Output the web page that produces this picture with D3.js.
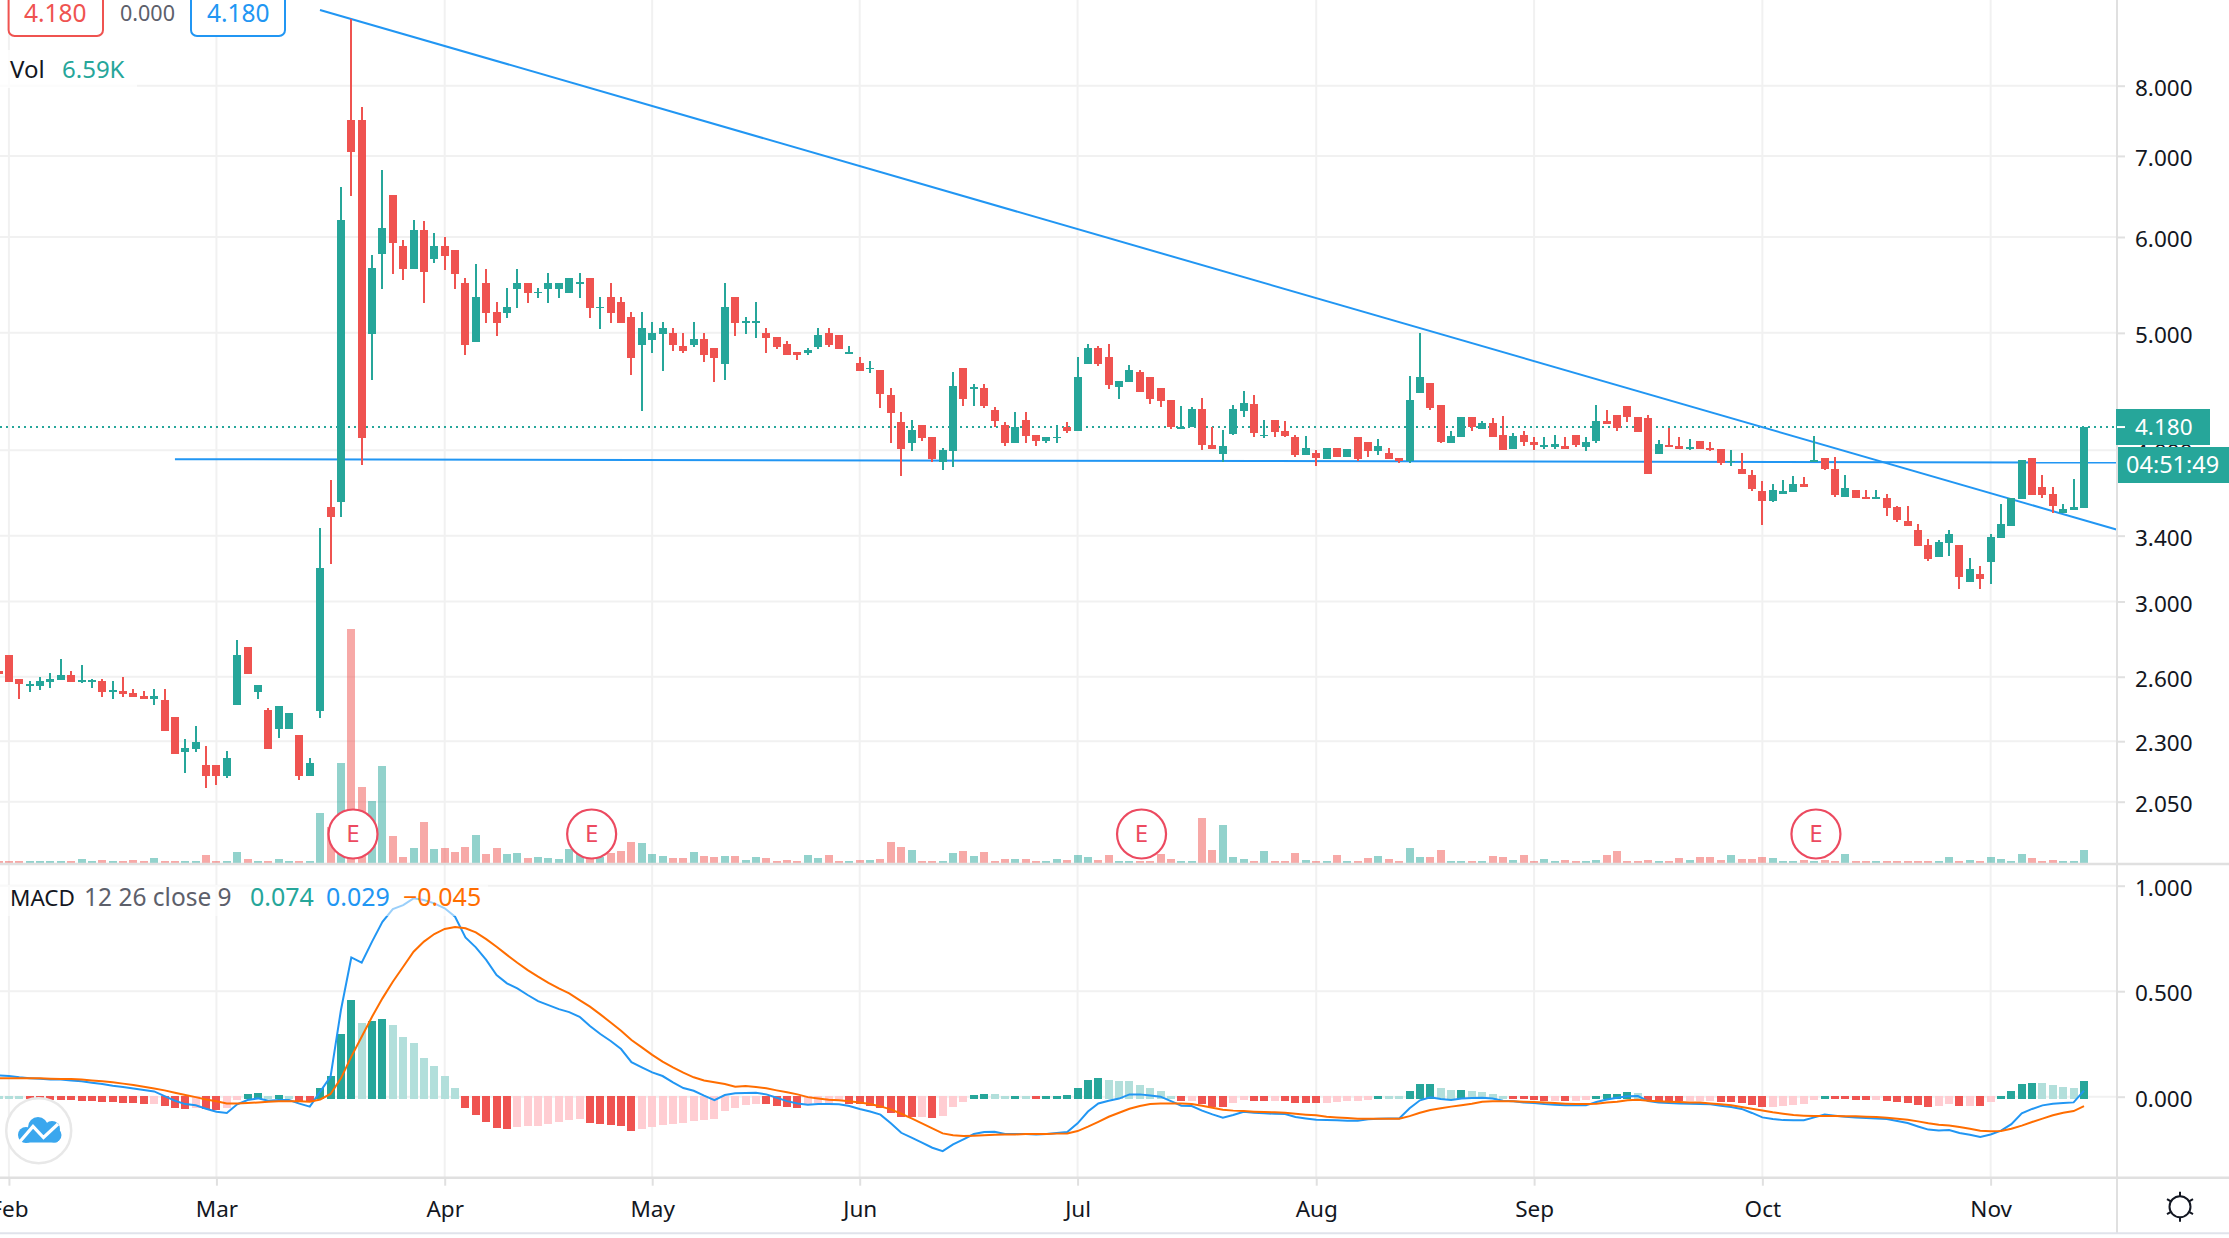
<!DOCTYPE html>
<html><head><meta charset="utf-8">
<script src="https://cdn.jsdelivr.net/npm/d3@7/dist/d3.min.js"></script>
<style>
html,body{margin:0;padding:0;background:#fff;overflow:hidden}
svg{display:block}
text{font-family:"Noto Sans",sans-serif}
.domainless .domain{display:none}
</style></head><body>
<div id="chart"></div>
<script>
const opens=[2.630,2.711,2.590,2.555,2.555,2.575,2.585,2.610,2.572,2.575,
2.580,2.524,2.532,2.522,2.508,2.494,2.489,2.410,2.254,2.267,
2.200,2.200,2.154,2.465,2.752,2.527,2.442,2.356,2.356,2.329,
2.154,2.437,3.592,3.626,7.496,7.496,4.990,5.810,6.500,5.898,
5.645,6.081,5.754,5.898,5.854,5.498,4.915,5.498,5.203,5.193,
5.436,5.498,5.394,5.436,5.436,5.394,5.488,5.550,5.240,5.354,
5.303,5.154,4.887,4.933,4.990,4.999,4.878,4.887,4.943,4.859,
4.713,5.354,5.095,5.095,4.999,4.962,4.896,4.823,4.813,4.868,
4.999,4.981,4.804,4.722,4.669,4.660,4.444,4.222,4.056,4.198,
4.103,3.912,3.994,4.678,4.494,4.503,4.319,4.198,4.056,4.238,
4.119,4.071,4.092,4.182,4.150,4.713,4.859,4.776,4.512,4.555,
4.642,4.598,4.503,4.402,4.166,4.182,4.327,4.040,3.972,4.126,
4.311,4.368,4.111,4.238,4.150,4.103,3.964,3.979,3.934,4.018,
3.949,4.103,4.063,3.994,3.979,3.942,3.919,4.461,4.546,4.360,
4.056,4.103,4.262,4.166,4.214,4.119,4.010,4.119,4.063,4.025,
4.025,4.033,4.119,4.025,4.071,4.230,4.278,4.352,4.262,4.254,
3.972,4.040,4.033,4.007,4.071,4.018,4.010,3.910,3.860,3.816,
3.702,3.633,3.681,3.695,3.752,3.912,3.942,3.860,3.661,3.709,
3.661,3.647,3.654,3.592,3.498,3.438,3.341,3.266,3.354,3.341,
3.114,3.162,3.236,3.386,3.464,3.647,3.942,3.730,3.681,3.551,
3.571,3.585];
const highs=[2.630,2.711,2.590,2.580,2.600,2.620,2.690,2.630,2.660,2.590,
2.590,2.580,2.600,2.542,2.532,2.542,2.542,2.410,2.311,2.369,
2.281,2.200,2.259,2.789,2.752,2.561,2.451,2.461,2.428,2.329,
2.229,3.451,3.780,6.600,9.081,7.683,5.798,6.810,6.500,5.966,
6.198,6.186,6.046,6.000,5.854,5.550,5.700,5.646,5.303,5.446,
5.646,5.498,5.446,5.603,5.498,5.550,5.603,5.550,5.354,5.498,
5.354,5.203,5.203,5.105,5.105,5.047,4.999,5.105,4.999,4.859,
5.498,5.354,5.154,5.303,5.047,4.962,4.924,4.823,4.859,5.047,
5.047,4.981,4.878,4.776,4.740,4.660,4.503,4.303,4.238,4.198,
4.103,4.018,4.642,4.678,4.538,4.538,4.344,4.222,4.303,4.303,
4.119,4.103,4.198,4.222,4.776,4.896,4.878,4.896,4.563,4.705,
4.660,4.598,4.503,4.402,4.352,4.344,4.419,4.182,4.158,4.360,
4.477,4.444,4.238,4.238,4.230,4.119,4.111,4.002,4.018,4.018,
4.010,4.103,4.063,4.087,4.018,3.942,4.607,4.999,4.546,4.360,
4.150,4.262,4.262,4.230,4.254,4.270,4.134,4.150,4.103,4.103,
4.119,4.103,4.119,4.103,4.360,4.319,4.278,4.352,4.262,4.278,
4.079,4.174,4.103,4.087,4.071,4.063,4.010,4.002,3.979,3.853,
3.773,3.752,3.780,3.809,3.802,4.111,3.942,3.949,3.816,3.709,
3.709,3.709,3.681,3.599,3.599,3.478,3.379,3.373,3.438,3.341,
3.260,3.211,3.412,3.612,3.654,3.927,3.942,3.816,3.730,3.612,
3.787,4.180];
const lows=[2.615,2.575,2.494,2.527,2.537,2.547,2.585,2.575,2.570,2.547,
2.503,2.494,2.503,2.503,2.494,2.465,2.347,2.246,2.167,2.254,
2.106,2.118,2.146,2.465,2.615,2.494,2.267,2.316,2.356,2.138,
2.154,2.405,3.223,3.524,6.487,3.890,4.572,5.436,5.592,5.529,
5.645,5.293,5.711,5.635,5.436,4.795,4.915,5.095,4.971,5.144,
5.243,5.293,5.343,5.293,5.343,5.394,5.343,5.144,5.037,5.095,
5.095,4.616,4.311,4.813,4.651,4.832,4.813,4.868,4.731,4.555,
4.572,4.971,4.990,4.952,4.813,4.850,4.795,4.749,4.795,4.850,
4.868,4.850,4.804,4.651,4.634,4.335,4.056,3.809,3.994,4.071,
3.912,3.853,3.875,4.352,4.352,4.335,4.182,4.033,4.056,4.056,
4.033,4.056,4.056,4.134,4.150,4.713,4.696,4.494,4.410,4.555,
4.469,4.368,4.344,4.166,4.166,4.182,4.002,4.010,3.912,4.118,
4.262,4.103,4.095,4.103,4.103,3.949,3.964,3.883,3.934,3.949,
3.949,3.919,3.949,3.964,3.934,3.905,3.905,4.461,4.319,4.056,
4.056,4.103,4.150,4.166,4.103,4.002,4.010,4.033,4.002,4.010,
4.010,4.010,4.025,3.994,4.056,4.206,4.150,4.222,4.142,3.824,
3.972,4.025,4.010,4.002,4.010,3.994,3.890,3.883,3.824,3.702,
3.471,3.626,3.681,3.695,3.730,3.912,3.853,3.661,3.661,3.654,
3.647,3.647,3.530,3.491,3.464,3.335,3.242,3.266,3.273,3.074,
3.114,3.074,3.102,3.386,3.464,3.647,3.674,3.654,3.551,3.551,
3.571,3.585];
const closes=[2.615,2.575,2.565,2.563,2.580,2.590,2.610,2.575,2.582,2.585,
2.527,2.534,2.518,2.503,2.494,2.508,2.347,2.246,2.272,2.298,
2.154,2.154,2.229,2.711,2.615,2.561,2.267,2.461,2.428,2.154,
2.208,3.198,3.524,6.198,7.053,4.095,5.656,6.104,5.932,5.645,
6.081,5.613,5.898,5.787,5.592,4.887,5.354,5.193,5.095,5.253,
5.498,5.394,5.404,5.498,5.498,5.550,5.503,5.243,5.256,5.193,
5.095,4.767,5.047,4.999,5.047,4.887,4.832,4.943,4.795,4.767,
5.253,5.095,5.114,5.114,4.952,4.868,4.795,4.795,4.841,4.981,
4.887,4.850,4.823,4.651,4.680,4.452,4.294,4.010,4.158,4.095,
3.934,4.002,4.520,4.410,4.512,4.352,4.230,4.056,4.182,4.111,
4.071,4.103,4.105,4.150,4.598,4.859,4.713,4.529,4.563,4.660,
4.469,4.410,4.394,4.182,4.182,4.327,4.040,4.010,4.033,4.327,
4.377,4.134,4.119,4.142,4.111,3.964,4.018,3.942,4.018,3.949,
4.010,3.934,3.994,4.033,3.934,3.919,4.402,4.598,4.335,4.063,
4.111,4.262,4.182,4.214,4.103,4.002,4.111,4.063,4.040,4.040,
4.048,4.010,4.040,4.063,4.230,4.206,4.174,4.262,4.142,3.824,
4.048,4.025,4.010,4.022,4.010,4.002,3.905,3.922,3.824,3.716,
3.633,3.709,3.702,3.752,3.730,3.927,3.860,3.674,3.723,3.654,
3.647,3.661,3.585,3.504,3.464,3.335,3.254,3.360,3.412,3.144,
3.192,3.132,3.392,3.478,3.654,3.927,3.674,3.674,3.599,3.578,
3.592,4.180];
const volumeK=[1.0,1.0,1.0,1.0,1.0,1.0,1.0,1.0,2.0,1.0,
1.5,1.0,1.0,1.5,1.0,2.5,1.0,1.0,1.0,1.0,
4.1,1.0,1.0,5.6,2.0,1.0,1.0,2.0,1.0,1.0,
1.0,25.4,18.3,50.7,118.6,38.5,31.4,49.2,13.7,3.0,
7.6,20.8,7.1,7.6,5.6,8.1,14.2,4.6,7.6,4.6,
5.1,2.5,3.0,2.5,2.0,7.1,5.6,2.5,3.0,5.1,
6.1,10.6,10.1,4.6,3.5,2.5,2.5,5.6,3.5,3.0,
3.5,3.5,1.5,3.0,2.5,1.0,1.5,1.0,4.1,2.5,
4.1,1.0,1.0,1.5,1.5,2.0,10.6,8.1,6.6,1.0,
1.0,1.0,5.1,6.1,3.5,5.6,1.0,2.0,2.0,2.0,
1.0,1.0,2.0,1.5,4.1,3.0,1.5,4.1,1.0,1.0,
1.0,1.0,4.6,2.0,1.0,1.0,22.8,6.6,19.3,3.0,
2.0,1.0,6.1,1.0,1.0,5.1,1.5,1.0,1.0,4.1,
1.0,1.0,2.5,3.5,2.0,1.0,7.6,3.0,3.0,6.6,
1.0,1.0,1.0,1.0,3.5,3.0,1.5,4.1,1.0,2.0,
1.0,1.5,1.0,1.0,1.5,4.1,6.1,1.0,1.0,1.5,
1.0,1.0,2.5,1.5,3.0,3.0,1.5,4.1,2.0,2.0,
3.0,2.5,1.0,1.0,1.5,1.0,1.5,1.0,4.6,1.0,
1.0,1.0,1.0,1.0,1.0,1.0,1.0,1.0,3.0,1.0,
1.5,1.0,3.0,2.0,1.0,4.6,2.5,1.0,1.5,1.0,
1.0,6.59];
const macdHist=[.003,.002,.001,-.008,-.009,-.010,-.011,-.013,-.014,-.017,
-.019,-.022,-.024,-.027,-.029,-.028,-.038,-.047,-.052,-.047,
-.052,-.057,-.047,-.009,.014,.019,.005,.006,.004,-.017,
-.022,.043,.100,.299,.460,.351,.360,.370,.341,.284,
.256,.185,.147,.100,.043,-.047,-.081,-.114,-.142,-.147,
-.137,-.133,-.132,-.123,-.114,-.104,-.103,-.118,-.123,-.128,
-.133,-.156,-.147,-.137,-.128,-.123,-.122,-.109,-.104,-.100,
-.062,-.047,-.035,-.030,-.031,-.039,-.044,-.049,-.035,-.025,
-.024,-.016,-.030,-.031,-.039,-.049,-.073,-.092,-.093,-.092,
-.096,-.087,-.044,-.021,.008,.013,.012,.004,.005,.004,
-.006,.004,.005,.008,.041,.079,.088,.079,.074,.073,
.055,.041,.027,.004,-.016,-.015,-.030,-.044,-.045,-.025,
-.011,-.016,-.017,-.016,-.017,-.025,-.026,-.027,-.026,-.021,
-.016,-.015,-.011,.005,.003,.002,.027,.060,.061,.041,
.032,.033,.027,.022,.012,.004,-.006,-.007,-.011,-.016,
-.015,-.016,-.015,-.011,.004,.013,.014,.022,.017,-.011,
-.016,-.017,-.018,-.017,-.016,-.015,-.021,-.022,-.025,-.035,
-.044,-.043,-.039,-.035,-.030,-.011,.002,-.006,-.007,-.011,
-.012,-.011,-.016,-.021,-.025,-.035,-.044,-.039,-.030,-.040,
-.039,-.040,-.021,.003,.027,.060,.065,.064,.055,.046,
.041,.074];
const macdLine=[.101,.098,.092,.088,.085,.082,.081,.077,.073,.066,
.060,.052,.046,.039,.032,.025,.003,-.019,-.035,-.041,
-.057,-.071,-.077,-.036,-.016,-.008,-.019,-.016,-.016,-.033,
-.047,.024,.095,.411,.660,.635,.735,.829,.889,.908,
.940,.932,.916,.893,.853,.755,.708,.648,.577,.537,
.513,.482,.453,.434,.415,.401,.379,.335,.297,.264,
.226,.164,.139,.115,.098,.068,.041,.028,.005,-.016,
.008,.016,.017,.019,.011,-.005,-.021,-.032,-.038,-.035,
-.035,-.036,-.044,-.058,-.070,-.085,-.126,-.171,-.194,-.218,
-.242,-.258,-.226,-.202,-.177,-.167,-.166,-.177,-.177,-.177,
-.179,-.177,-.172,-.167,-.126,-.070,-.032,-.019,-.009,.011,
.011,.006,0,-.021,-.043,-.044,-.066,-.084,-.100,-.087,
-.071,-.076,-.079,-.081,-.082,-.096,-.103,-.109,-.111,-.112,
-.114,-.114,-.107,-.104,-.103,-.103,-.055,-.017,-.003,-.011,
-.016,-.008,-.006,-.005,-.009,-.019,-.022,-.027,-.030,-.035,
-.038,-.040,-.041,-.041,-.025,-.013,-.005,.002,.003,-.021,
-.027,-.030,-.032,-.033,-.035,-.036,-.043,-.049,-.058,-.077,
-.098,-.106,-.111,-.112,-.112,-.098,-.084,-.090,-.095,-.098,
-.101,-.103,-.106,-.115,-.125,-.141,-.156,-.160,-.158,-.172,
-.180,-.191,-.179,-.161,-.130,-.079,-.058,-.041,-.033,-.030,
-.027,.029];
const signalLine=[.087,.088,.088,.088,.087,.085,.084,.084,.081,.077,
.073,.068,.062,.055,.047,.039,.030,.019,.008,-.002,
-.013,-.022,-.032,-.032,-.030,-.027,-.024,-.022,-.021,-.022,
-.024,-.013,.013,.087,.190,.284,.379,.466,.545,.616,
.687,.735,.771,.795,.804,.798,.779,.747,.711,.672,
.635,.600,.569,.540,.513,.490,.458,.427,.390,.352,
.313,.269,.234,.198,.166,.139,.114,.092,.077,.068,
.060,.047,.051,.046,.040,.030,.021,.011,-.002,-.008,
-.014,-.017,-.022,-.027,-.035,-.046,-.060,-.081,-.103,-.126,
-.150,-.174,-.183,-.186,-.185,-.183,-.180,-.179,-.179,-.177,
-.177,-.177,-.175,-.174,-.163,-.142,-.119,-.095,-.076,-.057,
-.044,-.035,-.032,-.032,-.032,-.035,-.043,-.052,-.062,-.066,
-.068,-.071,-.073,-.074,-.076,-.081,-.085,-.088,-.095,-.098,
-.101,-.104,-.104,-.104,-.104,-.104,-.092,-.076,-.063,-.055,
-.047,-.040,-.033,-.024,-.022,-.021,-.022,-.024,-.025,-.028,
-.030,-.033,-.035,-.035,-.033,-.028,-.024,-.017,-.014,-.019,
-.022,-.024,-.025,-.027,-.028,-.032,-.036,-.041,-.049,-.057,
-.065,-.074,-.081,-.087,-.090,-.092,-.092,-.092,-.093,-.093,
-.095,-.096,-.100,-.104,-.109,-.117,-.126,-.133,-.137,-.144,
-.152,-.161,-.164,-.163,-.152,-.137,-.120,-.104,-.088,-.076,
-.068,-.045];
const priceTicks=[8,7,6,5,4,3.4,3,2.6,2.3,2.05];
const macdTicks=[1,0.5,0];
const monthLabels=["Feb","Mar","Apr","May","Jun","Jul","Aug","Sep","Oct","Nov"];
const monthBars=[1,21,43,63,83,104,127,148,170,192];
const earningsBars=[34,57,110,175];
const trendDown={bars:[30.98,204.2],prices:[9.24,3.438]};
const trendFlat={bars:[17.0,204.2],prices:[3.932,3.907]};
const lastPrice=4.18;

const W=2229,H=1238,axisX=2117,paneBottom=864,macdBottom=1177.7,footY=1233.3;
const GREEN="#26a69a",RED="#ef5350",BLUE="#2196f3",ORANGE="#ff6d00",INK="#131722",GRID="#f1f1f1",SEP="#e0e0e0";
const x=d3.scaleLinear().domain([0,201]).range([-1.45,2084]);
const yP=d3.scaleLog().domain([8,2.05]).range([85.7,801.7]);
const yV=d3.scaleLinear().domain([0,120]).range([863,626.3]);
const yM=d3.scaleLinear().domain([1,0]).range([885.7,1096.7]);
const svg=d3.select("#chart").append("svg").attr("width",W).attr("height",H).attr("viewBox",`0 0 ${W} ${H}`);
svg.append("rect").attr("width",W).attr("height",H).attr("fill","#fff");
const bars=d3.range(opens.length);
const up=i=>closes[i]>=opens[i];

// grid
const grid=svg.append("g").attr("stroke",GRID).attr("stroke-width",2);
grid.selectAll(".v").data(monthBars).join("line").attr("x1",d=>x(d)).attr("x2",d=>x(d)).attr("y1",0).attr("y2",macdBottom);
grid.selectAll(".h").data(priceTicks).join("line").attr("x1",0).attr("x2",axisX).attr("y1",d=>yP(d)).attr("y2",d=>yP(d));
grid.selectAll(".m").data(macdTicks).join("line").attr("x1",0).attr("x2",axisX).attr("y1",d=>yM(d)).attr("y2",d=>yM(d));

// volume
svg.append("g").attr("shape-rendering","crispEdges").selectAll("rect").data(bars).join("rect")
 .attr("x",i=>x(i)-4).attr("width",8).attr("y",i=>yV(volumeK[i])).attr("height",i=>yV(0)-yV(volumeK[i]))
 .attr("fill",i=>up(i)?GREEN:RED).attr("fill-opacity",.5);

// last price dotted
svg.append("line").attr("x1",0).attr("x2",axisX).attr("y1",yP(lastPrice)).attr("y2",yP(lastPrice))
 .attr("stroke",GREEN).attr("stroke-width",2).attr("stroke-dasharray","2 4");

// trend lines
[trendDown,trendFlat].forEach(t=>{
 svg.append("line").attr("x1",x(t.bars[0])).attr("x2",x(t.bars[1])).attr("y1",yP(t.prices[0])).attr("y2",yP(t.prices[1]))
  .attr("stroke",BLUE).attr("stroke-width",2);
});

// candles
const cg=svg.append("g").attr("shape-rendering","crispEdges");
cg.selectAll(".w").data(bars).join("line")
 .attr("x1",i=>x(i)).attr("x2",i=>x(i)).attr("y1",i=>yP(highs[i])).attr("y2",i=>yP(lows[i]))
 .attr("stroke",i=>up(i)?GREEN:RED).attr("stroke-width",2);
cg.selectAll(".b").data(bars).join("rect")
 .attr("x",i=>x(i)-4).attr("width",8)
 .attr("y",i=>yP(Math.max(opens[i],closes[i])))
 .attr("height",i=>Math.max(1.5,yP(Math.min(opens[i],closes[i]))-yP(Math.max(opens[i],closes[i]))))
 .attr("fill",i=>up(i)?GREEN:RED);

// macd histogram
const histColor=i=>{const v=macdHist[i],p=i?macdHist[i-1]:Infinity;
 return v>=0?(v>p?GREEN:"#b2dfdb"):(v<p?RED:"#ffcdd2");};
svg.append("g").attr("shape-rendering","crispEdges").selectAll("rect").data(bars).join("rect")
 .attr("x",i=>x(i)-4).attr("width",8)
 .attr("y",i=>macdHist[i]>=0?yM(macdHist[i]):yM(0)-1)
 .attr("height",i=>Math.abs(yM(macdHist[i])-yM(0))+2)
 .attr("fill",histColor);

// macd lines
const lineOf=arr=>d3.line().x((d,i)=>x(i)).y(d=>yM(d))(arr);
svg.append("path").attr("d",lineOf(macdLine)).attr("fill","none").attr("stroke",BLUE).attr("stroke-width",2);
svg.append("path").attr("d",lineOf(signalLine)).attr("fill","none").attr("stroke",ORANGE).attr("stroke-width",2);

// legend backdrops
svg.append("rect").attr("x",0).attr("y",50).attr("width",137).attr("height",38).attr("fill","#fff").attr("fill-opacity",.75);
svg.append("rect").attr("x",0).attr("y",885).attr("width",488).attr("height",31).attr("fill","#fff").attr("fill-opacity",.55);

// earnings markers
const em=svg.append("g").selectAll("g").data(earningsBars).join("g")
 .attr("transform",i=>`translate(${x(i)+1.7},834)`);
em.append("circle").attr("r",24.5).attr("fill","#fff").attr("stroke","#ec4a60").attr("stroke-width",2.2);
em.append("text").attr("text-anchor","middle").attr("dy",8).attr("font-size",24).attr("fill","#ec4a60").text("E");

// separators / axes frame
svg.append("line").attr("x1",0).attr("x2",W).attr("y1",paneBottom).attr("y2",paneBottom).attr("stroke",SEP).attr("stroke-width",2.5);
svg.append("line").attr("x1",0).attr("x2",W).attr("y1",macdBottom).attr("y2",macdBottom).attr("stroke",SEP).attr("stroke-width",2.5);
svg.append("line").attr("x1",axisX).attr("x2",axisX).attr("y1",0).attr("y2",footY).attr("stroke",SEP).attr("stroke-width",2);
svg.append("line").attr("x1",0).attr("x2",W).attr("y1",footY).attr("y2",footY).attr("stroke","#e0e3eb").attr("stroke-width",2);

const styleAxis=g=>{g.classed("domainless",true);g.selectAll("line").attr("stroke",SEP).attr("stroke-width",2);
 g.selectAll("text").attr("fill",INK).attr("font-size",22.5).style("font-family",'"Noto Sans",sans-serif');};
const shiftY=(g,d)=>g.selectAll("text").attr("transform",`translate(0,${d})`);
svg.append("g").attr("transform",`translate(${axisX},0)`)
 .call(d3.axisRight(yP).tickValues(priceTicks).tickFormat(d3.format(".3f")).tickSize(8).tickPadding(10)).call(styleAxis).call(shiftY,2.5);
svg.append("g").attr("transform",`translate(${axisX},0)`)
 .call(d3.axisRight(yM).tickValues(macdTicks).tickFormat(d3.format(".3f")).tickSize(8).tickPadding(10)).call(styleAxis).call(shiftY,2.5);
svg.append("g").attr("transform",`translate(0,${macdBottom})`)
 .call(d3.axisBottom(x).tickValues(monthBars).tickFormat((d,i)=>monthLabels[i]).tickSize(8).tickPadding(10)).call(styleAxis).call(shiftY,5.5);

// price labels
svg.append("rect").attr("x",2116).attr("y",409).attr("width",94).attr("height",36).attr("fill",GREEN);
svg.append("line").attr("x1",2117).attr("x2",2125).attr("y1",yP(lastPrice)).attr("y2",yP(lastPrice)).attr("stroke","#fff").attr("stroke-width",2);
svg.append("text").attr("x",2135).attr("y",435).attr("fill","#fff").attr("font-size",22.5).text(d3.format(".3f")(lastPrice));
svg.append("rect").attr("x",2118).attr("y",447).attr("width",111).attr("height",36).attr("fill",GREEN);
svg.append("text").attr("x",2126).attr("y",473).attr("fill","#fff").attr("font-size",23.5).text("04:51:49");

// top legend
svg.append("rect").attr("x",8.6).attr("y",-12).attr("width",94.4).attr("height",48).attr("rx",6).attr("fill","#fff").attr("stroke",RED).attr("stroke-width",2);
svg.append("text").attr("x",24).attr("y",21.5).attr("fill",RED).attr("font-size",24.5).text("4.180");
svg.append("text").attr("x",120).attr("y",21).attr("fill","#5d606b").attr("font-size",21.5).text("0.000");
svg.append("rect").attr("x",191).attr("y",-12).attr("width",94).attr("height",48).attr("rx",6).attr("fill","#fff").attr("stroke",BLUE).attr("stroke-width",2);
svg.append("text").attr("x",207).attr("y",21.5).attr("fill",BLUE).attr("font-size",24.5).text("4.180");
svg.append("text").attr("x",10).attr("y",77.5).attr("fill",INK).attr("font-size",24).text("Vol");
svg.append("text").attr("x",62).attr("y",77.5).attr("fill",GREEN).attr("font-size",24).text("6.59K");

// macd legend
const ml=[["MACD",10,INK,22.5],["12 26 close 9",84,"#5d606b",24.5],["0.074",250,GREEN,25],["0.029",326,BLUE,25],["\u22120.045",403,ORANGE,25]];
ml.forEach(([t,px,c,s])=>svg.append("text").attr("x",px).attr("y",906).attr("fill",c).attr("font-size",s).text(t));

// logo
const logo=svg.append("g");
logo.append("circle").attr("cx",38.7).attr("cy",1130.7).attr("r",32.5).attr("fill","#fff").attr("stroke","#e8e8e8").attr("stroke-width",2.5);
const cloud=logo.append("g").attr("fill","#3aa7ee");
[[26,1135,8],[38,1127,10],[52,1129,8],[54,1135,7.5]].forEach(c=>cloud.append("circle").attr("cx",c[0]).attr("cy",c[1]).attr("r",c[2]));
cloud.append("rect").attr("x",24).attr("y",1130).attr("width",34).attr("height",12.5).attr("rx",2);
logo.append("path").attr("d","M17 1145L33 1126.5L43.5 1137.5L58 1124").attr("fill","none").attr("stroke","#fff").attr("stroke-width",3.2);

// settings icon
const gear=svg.append("g").attr("transform","translate(2180,1206.7)").attr("stroke",INK).attr("fill","none").attr("stroke-width",2);
gear.append("circle").attr("r",10.5);
d3.range(6).forEach(k=>{const a=k*Math.PI/3-Math.PI/2;
 gear.append("line").attr("x1",10.5*Math.cos(a)).attr("y1",10.5*Math.sin(a)).attr("x2",15*Math.cos(a)).attr("y2",15*Math.sin(a));});
</script>
</body></html>
